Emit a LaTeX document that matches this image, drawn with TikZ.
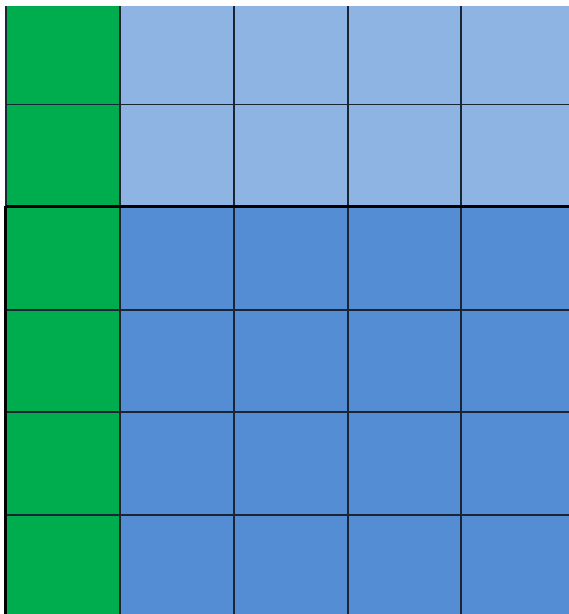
\documentclass[tikz,border=0pt]{standalone}
\definecolor{gr}{HTML}{00AD4E}
\definecolor{lb}{HTML}{8EB4E3}
\definecolor{db}{HTML}{548DD4}
\definecolor{ln}{HTML}{1A2633}
\tikzset{cellg/.style={fill=gr,draw=none},cellu/.style={fill=lb,draw=none},celld/.style={fill=db,draw=none},
thin/.style={draw=ln,line width=1.5pt},thick/.style={draw=black,line width=3pt}}
\begin{document}
\begin{tikzpicture}[x=1pt,y=-1pt]
\useasboundingbox (0,0) rectangle (569,614);
\fill[white] (0,0) rectangle (569,614);
% cells
\fill[cellg] (6,6) rectangle (120,614);
\fill[cellu] (120,6) rectangle (569,206);
\fill[celld] (120,206) rectangle (569,614);
% grid lines
\foreach \x in {120,234,348,461} \draw[thin] (\x,6) -- (\x,614);
\foreach \y in {104.5,310,412,515} \draw[thin] (6,\y) -- (569,\y);
\draw[thin] (6,6) -- (6,206);
\draw[thick] (5.5,206) -- (569,206);
\draw[thick] (5.5,206) -- (5.5,614);
\end{tikzpicture}
\end{document}
